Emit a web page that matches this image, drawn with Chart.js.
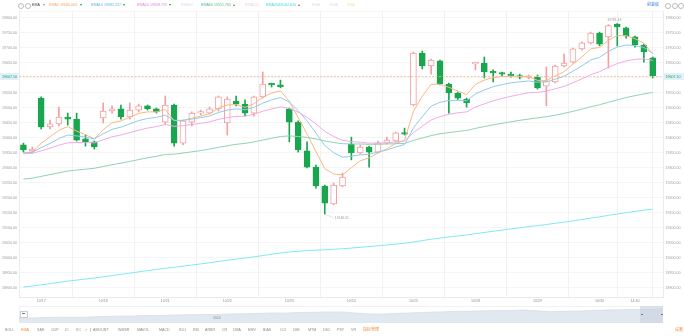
<!DOCTYPE html>
<html>
<head>
<meta charset="utf-8">
<script src="https://cdn.jsdelivr.net/npm/chart.js@4.4.1/dist/chart.umd.min.js"></script>
<style>
body { margin: 0; background: #fff; font-family: "Liberation Sans", Arial, sans-serif; }
#wrap { position: relative; width: 684px; height: 336px; overflow: hidden; }
#main { position: absolute; left: 0; top: 0; }
#nav { position: absolute; left: 19px; top: 306px; }
.t { position: absolute; font-size: 3.6px; line-height: 5px; white-space: nowrap; color: #999; }
.cjk { font-family: "Noto Sans CJK SC", sans-serif; font-size: 4px; }
.ring { position: absolute; width: 4px; height: 4px; border: 0.6px solid #bbb; border-radius: 50%; }
</style>
</head>
<body>
<div id="wrap">
  <canvas id="main" width="684" height="304"></canvas>
  <div style="position:absolute;left:19px;top:305.5px;width:644px;height:17.5px;border:0.5px solid #eef1f5;box-sizing:border-box;"></div>
  <canvas id="nav" width="644" height="17"></canvas>
  <div id="navsel" style="position:absolute;left:640px;top:306px;width:23px;height:17px;background:rgba(196,206,220,0.55);"></div>
  <div style="position:absolute;left:641px;top:314px;width:2px;height:0.8px;background:#777;"></div>
  <div style="position:absolute;left:661px;top:314px;width:2px;height:0.8px;background:#777;"></div>
  <div style="position:absolute;left:20px;top:311px;width:6px;height:5px;border:0.6px solid #c8ced6;background:#fff;"></div>
  <div style="position:absolute;left:21.5px;top:313.3px;width:3px;height:0.6px;background:#6a7a90;"></div>
  <div class="t" style="left:213px;top:316px;font-size:3.4px;color:#7f8a98;">2024</div>
  <div id="head"></div>
  <div id="tabs"></div>
</div>
<script>
// 30 minute candles, 17 Oct - 30 Oct
const opens = [19377, 19357, 19533, 19437, 19447, 19470, 19463, 19397, 19387, 19467,
  19490, 19497, 19470, 19493, 19507, 19497, 19453, 19510, 19383, 19453,
  19483, 19483, 19497, 19450, 19523, 19513, 19483, 19537, 19580, 19577,
  19497, 19453, 19357, 19303, 19240, 19180, 19240, 19380, 19350, 19370,
  19353, 19383, 19390, 19417, 19510, 19683, 19640, 19657, 19580, 19550,
  19530, 19647, 19650, 19620, 19617, 19613, 19607, 19602, 19603, 19573,
  19587, 19640, 19653, 19697, 19717, 19750, 19737, 19780, 19767, 19737,
  19710, 19667];
const highs = [19383, 19370, 19537, 19460, 19503, 19483, 19483, 19410, 19390, 19517,
  19507, 19510, 19517, 19513, 19510, 19500, 19540, 19513, 19460, 19487,
  19493, 19503, 19540, 19537, 19540, 19527, 19540, 19620, 19583, 19593,
  19500, 19457, 19387, 19310, 19243, 19250, 19283, 19403, 19377, 19373,
  19390, 19403, 19420, 19433, 19687, 19690, 19663, 19660, 19583, 19553,
  19533, 19653, 19670, 19627, 19620, 19620, 19613, 19610, 19610, 19637,
  19643, 19680, 19700, 19720, 19753, 19753, 19778, 19781.43, 19770, 19740,
  19713, 19670];
const lows = [19353, 19350, 19430, 19430, 19440, 19443, 19390, 19373, 19363, 19450,
  19483, 19463, 19463, 19487, 19493, 19483, 19447, 19373, 19377, 19440,
  19477, 19480, 19490, 19410, 19507, 19473, 19473, 19533, 19570, 19567,
  19387, 19353, 19300, 19233, 19146.61, 19177, 19237, 19327, 19347, 19303,
  19350, 19380, 19387, 19410, 19507, 19630, 19613, 19577, 19483, 19527,
  19503, 19627, 19600, 19587, 19607, 19603, 19597, 19597, 19563, 19507,
  19583, 19637, 19650, 19693, 19713, 19707, 19633, 19707, 19733, 19703,
  19653, 19600];
const closes = [19360, 19363, 19437, 19447, 19470, 19463, 19393, 19387, 19370, 19490,
  19497, 19470, 19493, 19507, 19497, 19487, 19510, 19383, 19457, 19483,
  19487, 19497, 19537, 19530, 19513, 19483, 19537, 19580, 19577, 19570,
  19453, 19360, 19303, 19240, 19183, 19243, 19270, 19350, 19370, 19353,
  19383, 19393, 19417, 19413, 19683, 19640, 19660, 19580, 19550, 19533,
  19517, 19650, 19620, 19617, 19613, 19607, 19603, 19604, 19567, 19590,
  19640, 19650, 19697, 19717, 19750, 19713, 19775, 19770, 19740, 19710,
  19687, 19607.1];

const ema5 = [19350, 19354, 19382, 19404, 19426, 19438, 19423, 19411, 19397, 19428,
  19451, 19457, 19469, 19482, 19487, 19487, 19495, 19458, 19458, 19466,
  19473, 19481, 19500, 19510, 19511, 19502, 19514, 19536, 19550, 19557,
  19522, 19468, 19413, 19355, 19298, 19280, 19277, 19301, 19324, 19334,
  19350, 19364, 19382, 19392, 19489, 19539, 19579, 19579, 19569, 19557,
  19544, 19579, 19593, 19601, 19605, 19606, 19605, 19605, 19592, 19591,
  19607, 19621, 19646, 19670, 19697, 19702, 19726, 19741, 19741, 19731,
  19716, 19680.063];
const ema10 = [19350, 19352, 19368, 19382, 19398, 19410, 19407, 19403, 19397, 19414,
  19429, 19436, 19447, 19458, 19465, 19469, 19476, 19459, 19459, 19463,
  19468, 19473, 19485, 19493, 19497, 19494, 19502, 19516, 19527, 19535,
  19520, 19491, 19457, 19417, 19375, 19351, 19336, 19339, 19344, 19346,
  19353, 19360, 19370, 19378, 19434, 19471, 19506, 19519, 19525, 19526,
  19524, 19547, 19560, 19571, 19578, 19584, 19587, 19590, 19586, 19587,
  19596, 19606, 19623, 19640, 19660, 19669, 19689, 19703, 19710, 19708,
  19702, 19682.257];
const ema20 = [19347, 19349, 19357, 19366, 19376, 19384, 19385, 19385, 19384, 19394,
  19404, 19410, 19418, 19426, 19433, 19438, 19445, 19439, 19441, 19445,
  19449, 19454, 19462, 19468, 19472, 19473, 19479, 19489, 19497, 19504,
  19499, 19486, 19469, 19447, 19422, 19405, 19392, 19388, 19386, 19383,
  19383, 19384, 19387, 19390, 19418, 19439, 19460, 19471, 19479, 19484,
  19487, 19503, 19514, 19524, 19532, 19539, 19545, 19551, 19552, 19556,
  19564, 19572, 19584, 19597, 19611, 19621, 19636, 19648, 19657, 19662,
  19664, 19658.725];
const ema60 = [19263, 19266, 19272, 19278, 19284, 19290, 19293, 19296, 19299, 19305,
  19311, 19316, 19322, 19328, 19334, 19339, 19345, 19346, 19350, 19354,
  19358, 19363, 19369, 19374, 19379, 19382, 19387, 19393, 19399, 19405,
  19407, 19405, 19402, 19397, 19390, 19385, 19381, 19380, 19380, 19379,
  19379, 19380, 19381, 19382, 19392, 19400, 19408, 19414, 19418, 19422,
  19425, 19432, 19438, 19444, 19449, 19454, 19459, 19463, 19467, 19471,
  19476, 19482, 19489, 19496, 19504, 19511, 19519, 19527, 19535, 19541,
  19547, 19551.765];
const ema250 = [18903, 18906.5, 18910.5, 18914.5, 18918.7, 18922.8, 18926.3, 18929.8, 18933.1, 18937.3,
  18941.5, 18945.5, 18949.6, 18953.8, 18957.9, 18961.9, 18966, 18969.1, 18972.7, 18976.5,
  18980.3, 18984.2, 18988.3, 18992.4, 18996.3, 18999.9, 19003.9, 19008.2, 19012.5, 19016.7,
  19020, 19022.5, 19024.6, 19026.2, 19027.4, 19029, 19030.8, 19033.2, 19035.7, 19038.1,
  19040.7, 19043.3, 19046.1, 19048.9, 19053.6, 19058, 19062.5, 19066.4, 19070, 19073.5,
  19076.8, 19081.1, 19085.1, 19089.1, 19093, 19096.9, 19100.7, 19104.5, 19108, 19111.6,
  19115.6, 19119.6, 19123.9, 19128.3, 19132.9, 19137.2, 19142, 19146.7, 19151.1, 19155.3,
  19159.3, 19162.62];

// first candle of each session, plus the last time mark
const dayTicks = [2, 9, 16, 23, 30, 37, 44, 51, 58, 65, 69];
const dayLabels = ["10/17", "10/18", "10/21", "10/22", "10/23", "10/24", "10/25", "10/28", "10/29", "10/30", "14:30"];
const priceTicks = [19800, 19750, 19700, 19650, 19600, 19550, 19500, 19450, 19400, 19350,
  19300, 19250, 19200, 19150, 19100, 19050, 19000, 18950, 18900];

// longer history for the overview strip under the chart
const navPrices = [17882, 17900, 17971, 18040, 17990, 18059, 18147, 18210, 18235, 18324,
  18300, 18412, 18440, 18500, 18480, 18588, 18620, 18677, 18765, 18740,
  18853, 18880, 18941, 18960, 18760, 18600, 18560, 18700, 18765, 18880,
  18941, 19030, 19080, 19118, 19206, 19180, 19294, 19150, 18990, 19060,
  19118, 19206, 19294, 19330, 19383, 19420, 19471];

const UP = '#f3a0a0';
const DOWN = '#19a64e';
const FONT = "'Liberation Sans', Arial, sans-serif";

const idx = closes.map((c, i) => i);
const isUp = idx.map(i => closes[i] >= opens[i]);
const lastClose = closes[closes.length - 1];

function linePoints(arr) {
  return arr.map((v, i) => ({ x: i, y: v }));
}

const lastPricePlugin = {
  id: 'lastPrice',
  afterDatasetsDraw(chart) {
    const ctx = chart.ctx;
    const area = chart.chartArea;
    const y = Math.round(chart.scales.y.getPixelForValue(lastClose)) + 0.5;
    ctx.save();
    ctx.strokeStyle = '#f7b98a';
    ctx.lineWidth = 0.8;
    ctx.setLineDash([2, 1.5]);
    ctx.beginPath();
    ctx.moveTo(area.left, y);
    ctx.lineTo(area.right, y);
    ctx.stroke();
    ctx.setLineDash([]);

    // price tags on both axes
    const txt = lastClose.toFixed(2);
    ctx.font = '3.6px ' + FONT;
    ctx.textBaseline = 'middle';
    ctx.fillStyle = '#e2effc';
    ctx.fillRect(0, y - 3.5, area.left - 0.5, 7);
    ctx.fillRect(area.right + 0.5, y - 3.5, 684 - area.right, 7);
    ctx.fillStyle = DOWN;
    ctx.textAlign = 'left';
    ctx.fillText(txt, 2, y);
    ctx.fillText(txt, area.right + 2.5, y);

    // highest and lowest marks
    let hi = 0, lo = 0;
    highs.forEach((v, i) => { if (v > highs[hi]) hi = i; });
    lows.forEach((v, i) => { if (v < lows[lo]) lo = i; });
    const xs = chart.scales.x;
    const ys = chart.scales.y;
    ctx.fillStyle = '#9a9a9a';
    ctx.font = '3.4px ' + FONT;
    ctx.textAlign = 'center';
    ctx.fillText(highs[hi].toFixed(2), xs.getPixelForValue(hi) - 3, ys.getPixelForValue(highs[hi]) - 4);
    const lx = xs.getPixelForValue(lo);
    const ly = ys.getPixelForValue(lows[lo]);
    ctx.strokeStyle = '#c9c9c9';
    ctx.lineWidth = 0.5;
    ctx.beginPath();
    ctx.moveTo(lx, ly);
    ctx.lineTo(lx + 9, ly + 4);
    ctx.stroke();
    ctx.textAlign = 'left';
    ctx.fillText(lows[lo].toFixed(2), lx + 10, ly + 4.5);

    // frame top edge
    ctx.strokeStyle = '#ececec';
    ctx.beginPath();
    ctx.moveTo(area.left, area.top + 0.5);
    ctx.lineTo(area.right, area.top + 0.5);
    ctx.stroke();
    ctx.restore();
  }
};

const tickFont = { size: 3.6, family: FONT };

new Chart(document.getElementById('main'), {
  type: 'line',
  data: {
    datasets: [
      {
        type: 'bar',
        data: idx.map(i => ({ x: i, y: [lows[i], highs[i]] })),
        backgroundColor: idx.map(i => isUp[i] ? UP : DOWN),
        barThickness: 1,
        grouped: false,
        order: 3
      },
      {
        type: 'bar',
        data: idx.map(i => ({ x: i, y: [opens[i], closes[i]] })),
        backgroundColor: idx.map(i => isUp[i] ? '#ffffff' : DOWN),
        borderColor: idx.map(i => isUp[i] ? UP : DOWN),
        borderWidth: 1,
        borderSkipped: false,
        barThickness: 6,
        minBarLength: 1.5,
        grouped: false,
        order: 2
      },
      { data: linePoints(ema250), borderColor: '#7fe9f1', borderWidth: 1, pointRadius: 0, order: 1 },
      { data: linePoints(ema60), borderColor: '#8fd3ae', borderWidth: 1, pointRadius: 0, order: 1 },
      { data: linePoints(ema20), borderColor: '#f2a9ea', borderWidth: 1, pointRadius: 0, order: 1 },
      { data: linePoints(ema10), borderColor: '#8fcbea', borderWidth: 1, pointRadius: 0, order: 1 },
      { data: linePoints(ema5), borderColor: '#fbb684', borderWidth: 1, pointRadius: 0, order: 1 }
    ]
  },
  options: {
    responsive: false,
    animation: false,
    devicePixelRatio: 1,
    layout: { padding: { top: 11, left: 2, right: 0, bottom: 0 } },
    plugins: { legend: { display: false }, tooltip: { enabled: false } },
    scales: {
      x: {
        type: 'linear',
        min: -0.5,
        max: 72.16,
        offset: false,
        afterBuildTicks: s => { s.ticks = dayTicks.map(v => ({ value: v })); },
        afterFit: s => { s.height = 7; },
        ticks: {
          callback: (v, i) => dayLabels[i],
          font: tickFont, color: '#8f8f8f', padding: 1.5, maxRotation: 0, autoSkip: false
        },
        grid: { color: '#eeeeee', lineWidth: 0.8, drawTicks: false },
        border: { color: '#e4e4e4', width: 0.8 }
      },
      y: {
        type: 'linear',
        position: 'left',
        min: 18870,
        max: 19823.33,
        afterBuildTicks: s => { s.ticks = priceTicks.map(v => ({ value: v })); },
        afterFit: s => { s.width = 17; },
        ticks: {
          callback: v => v.toFixed(2),
          font: tickFont, color: '#9a9a9a', padding: 0, crossAlign: 'far', autoSkip: false
        },
        grid: { color: '#f3f3f3', lineWidth: 0.8, drawTicks: false },
        border: { color: '#e6e6e6', width: 0.8 }
      },
      y2: {
        type: 'linear',
        position: 'right',
        min: 18870,
        max: 19823.33,
        afterBuildTicks: s => { s.ticks = priceTicks.map(v => ({ value: v })); },
        afterFit: s => { s.width = 21; },
        ticks: {
          callback: v => v.toFixed(2),
          font: tickFont, color: '#9a9a9a', padding: 2.5, autoSkip: false
        },
        grid: { display: false, drawTicks: false },
        border: { color: '#e6e6e6', width: 0.8 }
      }
    }
  },
  plugins: [lastPricePlugin]
});

// overview strip
new Chart(document.getElementById('nav'), {
  type: 'line',
  data: {
    datasets: [{
      data: linePoints(navPrices),
      borderColor: '#d6dde6',
      borderWidth: 0.8,
      backgroundColor: '#e2e8ef',
      fill: 'start',
      pointRadius: 0
    }]
  },
  options: {
    responsive: false,
    animation: false,
    devicePixelRatio: 1,
    plugins: { legend: { display: false }, tooltip: { enabled: false } },
    scales: {
      x: { type: 'linear', display: false, min: 0, max: navPrices.length - 1 },
      y: { display: false, min: 17000, max: 20000 }
    }
  }
});

// indicator header
const head = document.getElementById('head');
function put(parent, text, x, y, color, cls) {
  const el = document.createElement('div');
  el.className = 't' + (cls ? ' ' + cls : '');
  el.textContent = text;
  el.style.left = x + 'px';
  el.style.top = y + 'px';
  if (color) el.style.color = color;
  parent.appendChild(el);
  return el;
}
function ring(x, y) {
  const r = document.createElement('div');
  r.className = 'ring';
  r.style.left = x + 'px';
  r.style.top = y + 'px';
  head.appendChild(r);
}
ring(18, 2.5);
ring(25, 2.5);
put(head, 'EMA', 32, 2.5, '#444');
put(head, '▾', 42.5, 2.5, '#999');

const shown = [
  ['EMA5', ema5, '#f7a464', 49],
  ['EMA10', ema10, '#5fb4e6', 91],
  ['EMA20', ema20, '#e77fdc', 137],
  ['EMA60', ema60, '#4cbd82', 201],
  ['EMA250', ema250, '#39d6e3', 266]
];
shown.forEach(([name, arr, color, x]) => {
  const n = arr.length;
  const rising = arr[n - 1] >= arr[n - 2];
  put(head, name, x, 2.5, color);
  put(head, arr[n - 1].toFixed(3), x + (name.length > 4 ? 13 : 11), 2.5, color);
  put(head, rising ? '▴' : '▾', x + (name.length > 4 ? 32 : 30.5), 2.5, rising ? '#e84a4a' : DOWN);
});
put(head, 'EMA30', 181, 2.5, '#d7ddf4');
put(head, 'EMA120', 245, 2.5, '#f6d1d8');
put(head, 'EMA', 312, 2.5, '#dcdcdc');
put(head, 'EMA', 330, 2.5, '#e3d8f2');
put(head, 'EMA', 347, 2.5, '#f3e2b0');
put(head, '前复权', 647, 1.8, '#3e80e0', 'cjk');
[665, 671.5, 678].forEach(x => ring(x, 2.5));

// indicator tabs along the bottom
const tabs = document.getElementById('tabs');
const tabNames = ['BOLL', 'EMA', 'SAR', 'CDP', 'IC', 'KC', '>', 'AMOUNT', 'WMSR', 'MAVOL', 'MACD', 'KDJ', 'RSI',
  'ARBR', 'CR', 'DMA', 'EMV', 'BIAS', 'CCI', 'DMI', 'MTM', 'DSC', 'PSY', 'VR'];
const tabX = [5, 21, 37, 51, 65, 76, 85, 93, 118, 137, 159, 179, 193, 205, 222, 233, 248, 263, 280, 293, 308, 323, 337, 351];
tabNames.forEach((t, i) => put(tabs, t, tabX[i], 327.5, t === 'EMA' ? '#f08a3c' : '#8a8a8a'));
const sep = document.createElement('div');
sep.style.cssText = 'position:absolute;left:89.5px;top:328px;width:0.6px;height:4px;background:#ccc;';
tabs.appendChild(sep);
put(tabs, '指标管理', 363, 327, '#f08a3c', 'cjk');
put(tabs, '设置', 675, 327, '#f08a3c', 'cjk');
</script>
</body>
</html>
